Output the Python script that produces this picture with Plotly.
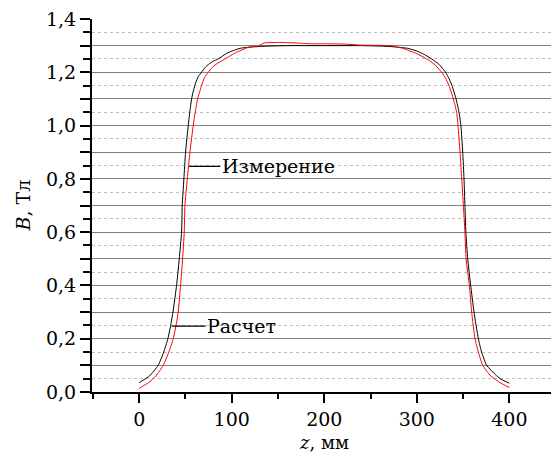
import plotly.graph_objects as go

# Calculated field profile B(z)
z_calc = [0, 11, 20.5, 26.5, 31, 34, 36.5, 40.4, 43.3, 45.8, 46.5, 48.3, 50.1, 53, 55, 56.6, 58.5, 61,
          64, 67.4, 71, 75, 80, 85.4, 95, 109, 130, 160, 200, 240, 270, 290, 300, 308, 316, 324, 331,
          335, 338, 342.4, 345.6, 347.6, 349.6, 351, 352, 353, 355, 358.2, 361.8, 366.5,
          370, 375.5, 385, 390, 400]
b_calc = [0.035, 0.06, 0.1, 0.15, 0.2, 0.25, 0.3, 0.4, 0.5, 0.6, 0.7, 0.8, 0.9, 1.0, 1.06, 1.1, 1.13, 1.16,
          1.185, 1.2, 1.217, 1.23, 1.242, 1.25, 1.272, 1.29, 1.297, 1.3, 1.3, 1.3, 1.297, 1.29, 1.28, 1.267, 1.25, 1.23, 1.2,
          1.175, 1.15, 1.1, 1.05, 1.0, 0.9, 0.8, 0.7, 0.6, 0.5, 0.4, 0.3, 0.2,
          0.15, 0.1, 0.065, 0.05, 0.033]

# Measured field profile B(z)
z_meas = [0, 10, 18, 26, 32, 36.8, 39.8, 42.2, 44.7, 46.9, 48.7, 49.4, 52, 54.8, 58.4, 61, 63.1, 67.4,
          70.5, 74.6, 78.5, 83, 92.6, 105, 115, 122, 127, 135, 150, 170, 185, 200, 220, 240, 260,
          272, 278, 285, 292.6, 300, 310.7, 319, 326.9, 331, 334.8, 339.5, 343, 344.5, 346.7,
          348.5, 350.3, 352, 353.2, 356.8, 359.3, 362.9, 366.5, 371.2, 380, 390, 400]
b_meas = [0.014, 0.035, 0.06, 0.1, 0.15, 0.2, 0.25, 0.3, 0.4, 0.5, 0.6, 0.7, 0.8, 0.9, 1.0, 1.06, 1.1, 1.15,
          1.18, 1.2, 1.217, 1.23, 1.25, 1.275, 1.29, 1.298, 1.296, 1.31, 1.312, 1.31, 1.307, 1.307, 1.306, 1.302, 1.301,
          1.3, 1.295, 1.29, 1.28, 1.27, 1.25, 1.23, 1.2, 1.178, 1.15, 1.1, 1.05, 1.0, 0.9,
          0.8, 0.7, 0.6, 0.5, 0.4, 0.3, 0.2, 0.15, 0.1, 0.06, 0.035, 0.017]

y_tickvals = [0.0, 0.1, 0.2, 0.3, 0.4, 0.5, 0.6, 0.7, 0.8, 0.9, 1.0, 1.1, 1.2, 1.3, 1.4]
y_ticktext = ["0,0", "", "0,2", "", "0,4", "", "0,6", "", "0,8", "", "1,0", "", "1,2", "", "1,4"]
x_tickvals = [0, 100, 200, 300, 400]
x_ticktext = ["0", "100", "200", "300", "400"]

FONT = "DejaVu Serif"

fig = go.Figure()
fig.add_trace(go.Scatter(x=z_calc, y=b_calc, mode="lines",
                         line=dict(color="#000000", width=1, shape="spline", smoothing=0.5),
                         name="Расчет"))
fig.add_trace(go.Scatter(x=z_meas, y=b_meas, mode="lines",
                         line=dict(color="#ff0000", width=1, shape="spline", smoothing=0.5),
                         name="Измерение"))

fig.update_layout(
    width=551, height=453,
    margin=dict(l=92, r=0, t=19, b=61),
    paper_bgcolor="white", plot_bgcolor="white",
    showlegend=False,
    font=dict(family=FONT, size=19, color="black"),
)

fig.update_xaxes(
    range=[-51, 445],
    tickmode="array", tickvals=x_tickvals, ticktext=x_ticktext,
    ticks="outside", ticklen=9, tickwidth=1.5, tickcolor="black",
    minor=dict(dtick=50, tick0=0, ticks="outside", ticklen=5, tickwidth=1.5, tickcolor="black",
               showgrid=False),
    showline=True, linewidth=2, linecolor="black",
    showgrid=False, zeroline=False,
    tickfont=dict(family=FONT, size=19),
)
fig.update_yaxes(
    range=[0, 1.4],
    tickmode="array", tickvals=y_tickvals, ticktext=y_ticktext,
    ticks="outside", ticklen=10, tickwidth=1.5, tickcolor="black",
    minor=dict(dtick=0.05, tick0=0, ticks="outside", ticklen=7, tickwidth=1.5, tickcolor="black",
               showgrid=True, gridcolor="#bdbdbd", griddash="dot", gridwidth=1),
    showline=True, linewidth=2, linecolor="black",
    showgrid=True, gridcolor="#808080", gridwidth=1,
    zeroline=False,
    tickfont=dict(family=FONT, size=19),
)

# Axis titles
fig.add_annotation(text="<i>z</i>, мм", xref="x", yref="paper", x=200, y=0,
                   yshift=-50, xanchor="center", yanchor="middle", showarrow=False,
                   font=dict(family=FONT, size=18))
fig.add_annotation(text="<i>B</i>, Тл", xref="paper", yref="paper", x=0, y=0.5,
                   xshift=-70, xanchor="center", yanchor="middle", textangle=-90,
                   showarrow=False, font=dict(family=FONT, size=19))

# Curve labels with leader lines
fig.add_annotation(text="Измерение", x=54, y=0.847, xref="x", yref="y",
                   ax=89, ay=0, showarrow=True, arrowhead=0, arrowwidth=1.2,
                   arrowcolor="black", standoff=0,
                   font=dict(family=FONT, size=19))
fig.add_annotation(text="Расчет", x=35, y=0.2475, xref="x", yref="y",
                   ax=70, ay=0, showarrow=True, arrowhead=0, arrowwidth=1.2,
                   arrowcolor="black", standoff=0,
                   font=dict(family=FONT, size=19))

fig.write_html("out.html")
